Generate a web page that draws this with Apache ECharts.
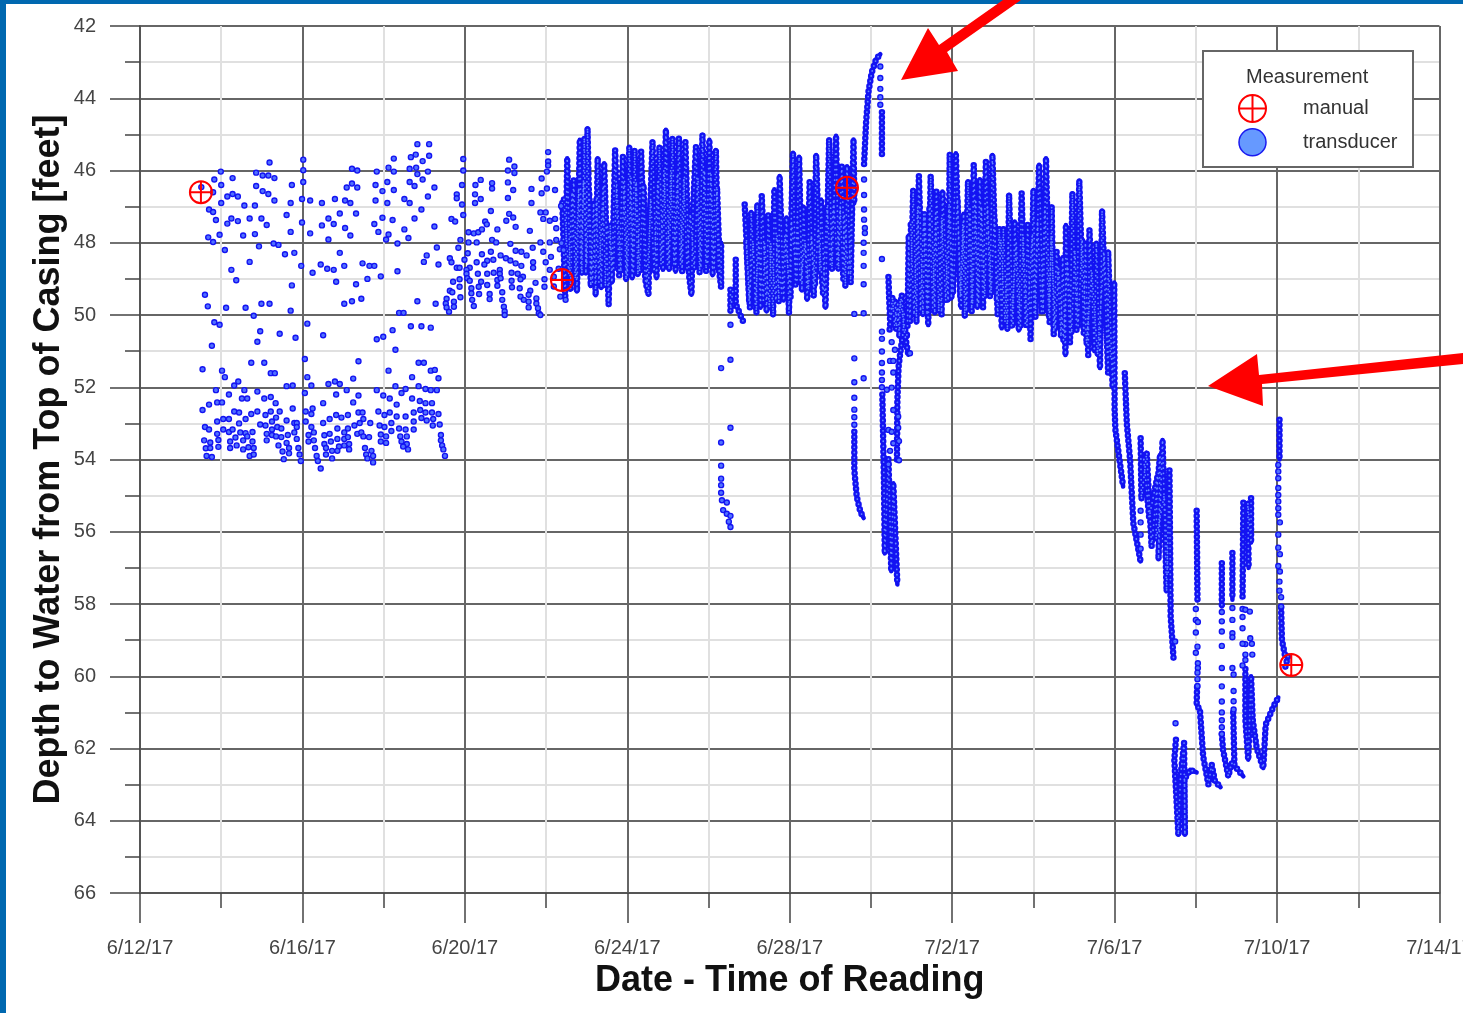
<!DOCTYPE html>
<html>
<head>
<meta charset="utf-8">
<script src="https://cdn.jsdelivr.net/npm/echarts@6/dist/echarts.min.js"></script>
<style>
html,body{margin:0;padding:0;background:#fff;overflow:hidden}
#chart{width:1463px;height:1013px}
</style>
</head>
<body>
<div id="chart"></div>
<script>
// x values are days after 6/12/17, y values are depth to water in feet
const dateLabels = ['6/12/17','6/16/17','6/20/17','6/24/17','6/28/17','7/2/17','7/6/17','7/10/17','7/14/17'];

const manualReadings = [[1.5,46.6],[10.39,49.03],[17.41,46.48],[28.35,59.69]];

const sparseUpper = [[1.51,46.46],[1.99,46.03],[1.83,46.25],[2.0,46.4],[1.8,46.6],[1.7,47.08],[1.8,47.15],[1.87,47.37],[1.68,47.85],[1.8,47.98],[1.96,47.78],[2.0,46.9],[2.15,46.72],[2.28,46.65],[2.41,46.72],[2.28,46.21],[2.57,46.97],[2.83,46.97],[2.15,47.47],[2.25,47.33],[2.41,47.4],[2.7,47.33],[2.99,47.33],[2.54,47.8],[2.83,47.76],[3.12,47.51],[2.93,48.1],[2.09,48.2],[2.7,48.53],[2.25,48.75],[2.37,49.04],[2.86,46.06],[3.02,46.14],[3.16,46.14],[3.31,46.21],[3.19,45.78],[2.86,46.43],[3.02,46.57],[3.16,46.65],[3.31,46.83],[3.74,46.4],[3.71,46.9],[3.61,47.23],[3.71,47.7],[3.29,48.02],[3.41,48.06],[3.57,48.32],[3.8,48.28],[3.74,49.18],[3.97,48.64],[3.99,47.44],[3.99,46.79],[4.02,46.32],[4.02,45.99],[4.02,45.7],[4.19,46.83],[4.19,47.74],[4.48,46.9],[4.48,47.52],[4.64,47.33],[4.77,47.48],[4.64,47.91],[4.8,46.79],[4.92,47.19],[5.05,46.83],[5.18,46.9],[5.09,46.47],[5.22,46.36],[5.35,46.47],[5.22,45.95],[5.35,46.0],[5.32,47.19],[5.05,47.59],[5.18,47.8],[4.92,48.28],[4.45,48.6],[4.25,48.83],[4.61,48.72],[4.77,48.75],[5.03,48.64],[4.83,49.08],[5.32,49.15],[5.48,48.57],[5.65,48.64],[5.77,48.64],[5.6,49.0],[5.93,48.93],[5.77,47.48],[5.87,47.7],[5.97,47.31],[5.8,46.83],[5.8,46.4],[5.83,46.03],[5.97,46.57],[6.09,46.32],[6.09,46.9],[6.12,45.92],[6.25,46.03],[6.25,46.54],[6.25,45.67],[6.22,47.37],[6.12,47.77],[6.06,47.91],[6.34,48.02],[6.34,48.79],[6.51,46.79],[6.64,46.9],[6.51,47.63],[6.61,47.87],[6.76,47.33],[6.93,47.08],[7.25,47.55],[7.31,48.13],[7.06,48.35],[6.99,48.53],[7.35,48.6],[6.64,45.95],[6.64,46.32],[6.76,46.43],[6.8,45.92],[6.83,46.1],[6.96,46.25],[6.67,45.63],[6.79,45.56],[6.96,45.74],[6.83,45.27],[7.12,45.27],[7.12,45.59],[7.09,46.03],[7.25,46.47],[7.09,46.72]];

const sparseMiddle = [[1.6,49.44],[1.67,49.76],[2.12,49.8],[2.6,49.8],[2.99,49.69],[3.19,49.69],[3.71,49.88],[2.8,50.02],[1.83,50.2],[1.96,50.27],[1.77,50.85],[2.96,50.45],[2.89,50.74],[3.44,50.52],[3.83,50.63],[4.12,50.24],[4.51,50.56],[5.03,49.69],[5.22,49.62],[5.45,49.55],[5.83,50.67],[5.99,50.6],[6.22,50.42],[6.29,50.96],[6.38,49.94],[6.49,49.94],[6.67,50.31],[6.93,50.31],[7.16,50.35],[6.83,49.62],[7.28,49.69],[1.54,51.5],[2.02,51.54],[2.09,51.72],[2.74,51.32],[3.06,51.32],[3.22,51.61],[3.32,51.61],[4.06,51.22],[5.38,51.28],[6.12,51.54],[6.86,51.32],[6.99,51.32],[7.16,51.54],[7.26,51.52],[7.35,51.75],[4.12,51.72],[5.25,51.76],[6.7,51.72],[1.87,52.08],[2.32,51.95],[2.42,51.84],[2.57,52.08],[2.19,52.2],[2.51,52.31],[2.64,52.31],[2.89,52.12],[3.06,52.31],[3.22,52.27],[3.34,52.44],[3.61,51.97],[3.76,51.95],[4.06,52.16],[4.22,51.95],[4.64,51.91],[4.8,51.84],[4.92,51.91],[5.09,52.08],[4.83,52.2],[5.38,52.23],[5.25,52.42],[5.83,52.08],[5.99,52.23],[6.15,52.31],[6.29,51.97],[6.44,52.16],[6.54,52.05],[6.7,52.31],[6.86,51.97],[7.03,52.05],[7.16,52.08],[7.31,52.08],[6.89,52.38],[7.03,52.44],[7.19,52.44],[6.32,52.48],[4.51,52.44]];

const sparseLower = [[1.54,52.63],[1.7,52.48],[1.9,52.42],[2.02,52.42],[1.9,52.95],[2.05,52.88],[2.19,52.88],[2.32,52.67],[2.44,52.7],[2.74,52.74],[2.89,52.67],[3.09,52.77],[3.22,52.67],[3.44,52.67],[3.76,52.59],[4.08,52.67],[4.25,52.59],[4.22,52.74],[4.83,52.77],[5.12,52.77],[4.96,52.84],[4.67,52.88],[4.51,52.99],[5.38,52.7],[5.48,52.7],[5.87,52.67],[6.02,52.77],[6.15,52.7],[6.32,52.81],[6.54,52.81],[6.74,52.7],[6.9,52.63],[7.03,52.7],[7.19,52.7],[7.35,52.74],[1.6,53.1],[1.7,53.17],[1.58,53.47],[1.73,53.53],[1.9,53.29],[1.93,53.46],[1.93,53.65],[1.62,53.69],[1.73,53.68],[1.64,53.9],[1.77,53.93],[2.05,53.17],[2.19,53.24],[2.28,53.17],[2.44,53.0],[2.6,52.88],[2.47,53.25],[2.6,53.27],[2.77,53.24],[2.35,53.39],[2.22,53.5],[2.22,53.68],[2.38,53.61],[2.54,53.47],[2.64,53.36],[2.77,53.5],[2.54,53.72],[2.67,53.66],[2.8,53.68],[2.7,53.9],[2.8,53.86],[2.96,53.03],[3.09,53.06],[3.25,52.95],[3.35,52.84],[3.61,52.92],[3.8,52.99],[3.86,52.99],[3.38,53.1],[3.48,53.14],[3.25,53.17],[3.12,53.29],[3.25,53.32],[3.12,53.47],[3.35,53.36],[3.48,53.38],[3.64,53.32],[3.86,53.1],[3.8,53.25],[3.41,53.61],[3.61,53.54],[3.51,53.78],[3.67,53.68],[3.54,53.99],[3.67,53.83],[3.86,53.43],[3.9,53.68],[3.93,53.86],[3.96,54.04],[4.08,52.95],[4.22,53.1],[4.28,53.25],[4.15,53.32],[4.28,53.47],[4.15,53.5],[4.31,53.68],[4.35,53.9],[4.38,54.04],[4.45,54.25],[4.54,53.33],[4.67,53.29],[4.54,53.57],[4.7,53.5],[4.58,53.68],[4.73,53.76],[4.58,53.86],[4.73,53.97],[4.86,53.14],[5.03,53.25],[5.12,53.14],[5.28,53.06],[4.86,53.43],[5.03,53.43],[5.12,53.38],[4.9,53.64],[5.03,53.61],[5.15,53.57],[5.15,53.72],[4.86,53.76],[5.35,53.29],[5.5,52.88],[5.41,52.99],[5.67,52.99],[5.45,53.25],[5.5,53.36],[5.64,53.38],[5.54,53.68],[5.7,53.76],[5.57,53.86],[5.74,53.9],[5.6,53.97],[5.74,54.08],[5.9,53.06],[6.02,53.1],[6.19,52.99],[6.19,53.21],[5.93,53.31],[6.06,53.36],[5.93,53.5],[6.06,53.54],[6.38,53.14],[6.54,53.17],[6.41,53.36],[6.57,53.36],[6.44,53.5],[6.57,53.57],[6.48,53.64],[6.6,53.72],[6.74,52.95],[6.74,53.17],[6.93,52.85],[7.06,52.92],[7.22,52.88],[7.21,53.06],[7.38,53.03],[7.41,53.32],[7.41,53.47],[7.44,53.61],[7.47,53.72],[7.51,53.9]];

const sparseLateJune = [[7.96,45.68],[7.96,46],[7.93,46.4],[7.8,46.66],[7.8,46.77],[7.93,46.94],[7.96,47.23],[7.67,47.34],[7.76,47.41],[8.09,47.71],[8.22,47.74],[8.33,47.71],[8.42,47.63],[8.5,47.41],[8.54,47.49],[8.8,47.63],[8.64,47.12],[8.39,46.26],[8.26,46.4],[8.25,46.66],[8.39,46.79],[8.25,46.9],[8.67,46.35],[8.67,46.5],[9.09,45.7],[9.22,45.89],[9.06,46],[9.22,46.07],[9.06,46.33],[9.19,46.54],[9.06,46.76],[9.09,47.2],[9.19,47.3],[9.02,47.39],[9.25,47.56],[9.6,47.67],[9.64,46.51],[9.64,46.9],[9.89,46.22],[10.02,46.03],[10.05,45.49],[10.05,45.75],[10.05,45.86],[9.89,46.63],[10.02,46.5],[10.22,46.54],[9.86,47.16],[9.99,47.16],[9.93,47.34],[10.09,47.39],[10.22,47.34],[10.25,47.6],[10.37,46.98],[7.89,47.92],[8.09,47.99],[7.84,48.14],[8.29,47.99],[8.67,47.92],[8.77,47.99],[9.12,48.03],[9.67,48.14],[9.86,47.99],[10.09,47.99],[10.25,47.92],[10.38,48.01],[8.07,48.29],[7.99,48.47],[8.42,48.32],[8.64,48.25],[8.88,48.35],[9.01,48.43],[9.12,48.49],[9.25,48.22],[9.39,48.25],[9.52,48.35],[9.68,48.54],[9.68,48.69],[9.93,48.25],[9.99,48.54],[10.12,48.39],[10.34,48.18],[10.43,48.2],[7.63,48.43],[7.67,48.54],[7.8,48.69],[7.87,48.69],[8.12,48.69],[8.29,48.54],[8.55,48.5],[8.7,48.47],[8.48,48.6],[9.25,48.57],[9.39,48.64],[8.04,48.75],[8.04,48.86],[8.06,48.98],[8.32,48.86],[8.55,48.86],[8.71,48.83],[8.86,48.75],[8.86,48.86],[9.15,48.83],[9.3,48.86],[9.43,48.94],[7.71,49.08],[7.87,49.01],[8.12,49.05],[8.4,49.08],[8.8,49.03],[8.88,48.98],[9.15,49.05],[9.37,49.01],[9.74,49.11],[9.96,49.01],[9.96,49.22],[10.09,48.75],[10.19,48.94],[10.31,48.72],[7.63,49.33],[7.87,49.22],[8.16,49.26],[8.34,49.22],[8.55,49.17],[8.8,49.19],[9.16,49.23],[9.35,49.26],[9.61,49.33],[10.19,49.21],[7.55,49.55],[7.69,49.37],[7.89,49.51],[8.16,49.4],[8.35,49.42],[8.61,49.42],[8.92,49.37],[9.37,49.49],[9.57,49.44],[9.76,49.54],[10.35,49.49],[10.48,49.58],[7.53,49.68],[7.73,49.63],[8.18,49.58],[8.61,49.56],[8.92,49.58],[9.45,49.58],[9.57,49.63],[9.76,49.68],[7.55,49.79],[7.73,49.77],[8.22,49.75],[8.96,49.77],[9.57,49.79],[9.8,49.81],[7.61,49.91],[8.98,49.9],[9.82,49.95],[8.98,50],[9.86,50]];

const dropStrands = [[14.31,51.47],[14.54,51.24],[14.54,50.27],[14.54,53.12],[14.31,53.53],[14.31,54.17],[14.31,54.53],[14.31,54.71],[14.31,54.92],[14.33,55.13],[14.36,55.4],[14.45,55.19],[14.45,55.5],[14.54,55.56],[14.5,55.72],[14.54,55.87],
[17.83,46.25],[17.83,46.68],[17.83,47.08],[17.83,47.36],[17.85,47.59],[17.85,47.73],[17.82,48.0],[17.82,48.28],[17.82,48.64],[17.82,49.15],[17.82,49.95],[17.82,51.75],[17.59,49.97],[17.59,51.2],[17.59,51.86],[17.59,52.29],[17.59,52.62],[17.59,52.83],[17.59,53.04],
[18.23,43.12],[18.23,43.44],[18.23,43.74],[18.23,43.97],[18.23,44.18],[18.27,48.45],[18.27,50.46],[18.27,50.66],[18.27,51.01],[18.27,51.33],[18.27,51.59],[18.27,51.8],[18.27,52.0],
[18.51,50.75],[18.59,50.96],[18.47,51.27],[18.55,51.27],[18.55,51.59],[18.51,52.01],[18.39,52.07],[18.55,52.63],[18.67,52.81],[18.67,53.12],[18.43,53.18],[18.51,53.23],[18.55,53.55],[18.69,53.49],[18.47,53.76],[18.43,54.13],[18.69,54.02],[18.96,51.06],
[24.64,55.42],[24.64,55.74],[24.64,56.08],[24.64,56.47],[25.49,59.04],[25.5,61.3],
[26.0,58.14],[26.0,58.44],[26.05,58.5],[26.0,58.79],[26.04,59.18],[26.0,59.35],[26.05,59.64],[26.05,59.77],[26.04,59.9],[26.04,60.08],[26.04,60.27],
[26.64,58.22],[26.64,58.48],[26.64,58.76],[26.64,59.16],[26.64,59.77],[26.64,60.28],[26.64,60.7],[26.64,61.0],[26.64,61.22],[26.64,61.41],[26.64,61.6],
[26.9,58.11],[26.9,58.44],[26.9,58.81],[26.9,58.92],[26.9,59.77],[26.93,59.95],[26.93,60.41],[26.93,60.69],[26.93,60.92],
[27.15,58.14],[27.15,58.36],[27.15,58.67],[27.22,58.16],[27.22,59.11],[27.33,58.21],[27.34,58.95],[27.15,59.1],[27.38,59.1],[27.22,59.4],[27.39,59.4],[27.15,59.7],[27.22,59.55],
[28.03,54.15],[28.03,54.33],[28.03,54.52],[28.03,54.79],[28.03,54.98],[28.03,55.16],[28.03,55.35],[28.03,55.53],[28.07,55.74],[28.03,56.08],[28.03,56.44],[28.07,56.62],[28.03,56.95],[28.07,57.1],[28.06,57.38],[28.06,57.63],[28.1,57.81],[28.1,58.07]];

// traced swings of the water level through the densely sampled stretches
const swingsJune = [[10.40,46.9],[10.47,49.55],[10.52,45.66],[10.60,49.3],[10.68,46.26],[10.76,49.35],[10.83,45.15],[10.88,48.85],[10.94,45.1],[10.98,48.85],[11.02,44.83],[11.10,49.2],[11.17,46.9],[11.22,49.45],[11.27,45.66],[11.36,49.25],[11.43,45.8],[11.54,49.72],[11.58,47.5],[11.62,49.1],[11.70,45.43],[11.80,48.9],[11.89,45.61],[11.97,49.03],[12.05,45.34],[12.12,48.98],[12.18,45.43],[12.26,48.89],[12.34,45.47],[12.44,49.0],[12.52,49.44],[12.56,47.2],[12.62,45.2],[12.72,48.98],[12.79,45.34],[12.88,48.75],[12.95,44.87],[13.03,48.75],[13.11,45.1],[13.19,48.8],[13.27,45.1],[13.35,48.8],[13.43,45.2],[13.52,48.9],[13.58,49.44],[13.62,47.0],[13.69,45.34],[13.78,48.84],[13.85,45.01],[13.94,48.8],[14.02,45.15],[14.10,48.9],[14.18,45.43],[14.24,48.6],[14.31,49.23],[14.31,48.0]];
const innerJune = [[10.44,46.8],[10.56,48.9],[10.64,46.6],[10.72,49],[10.8,46.5],[10.86,48.7],[10.92,46.3],[11.0,48.6],[11.06,46.6],[11.14,49.1],[11.24,46.8],[11.3,49.1],[11.4,46.5],[11.46,49.2],[11.5,47.5],[11.66,48.7],[11.74,46.4],[11.84,48.8],[11.93,46.3],[12.0,48.9],[12.09,46.2],[12.15,48.8],[12.22,46.3],[12.3,48.8],[12.4,46.4],[12.48,49.2],[12.58,46.8],[12.66,48.8],[12.75,46.3],[12.83,48.6],[12.9,46],[12.99,48.6],[13.07,46],[13.15,48.6],[13.23,46.1],[13.31,48.6],[13.39,46.2],[13.47,48.7],[13.55,47.2],[13.65,48.7],[13.74,46.2],[13.81,48.7],[13.9,46],[13.98,48.6],[14.06,46.1],[14.14,48.7],[14.21,46.5],[14.28,48.8]];
const swingsLateJune = [[14.89,46.94],[15.02,49.8],[15.05,47.15],[15.18,49.95],[15.2,46.94],[15.28,49.8],[15.31,46.7],[15.43,49.9],[15.47,47.23],[15.59,50.01],[15.62,46.52],[15.73,49.64],[15.75,46.15],[15.85,49.6],[15.92,47.3],[15.98,49.95],[16.08,45.51],[16.14,49.16],[16.23,45.62],[16.3,49.32],[16.34,47.0],[16.43,49.58],[16.49,46.31],[16.59,49.48],[16.65,45.57],[16.74,48.79],[16.77,46.8],[16.88,49.8],[16.97,45.14],[17.04,48.74],[17.14,45.04],[17.2,48.74],[17.28,45.88],[17.37,49.21],[17.41,45.88],[17.5,49.11],[17.57,45.14],[17.59,46.9]];
const innerLateJune = [[14.93,48],[15.0,49.6],[15.1,48],[15.15,49.7],[15.24,48],[15.35,49.6],[15.38,48],[15.5,49.8],[15.53,48],[15.66,49.6],[15.69,47.8],[15.8,49.4],[15.88,47.8],[16.02,49.5],[16.04,47.4],[16.18,49.1],[16.19,47.3],[16.26,49.1],[16.38,48],[16.46,49.3],[16.53,47.8],[16.62,49.2],[16.7,47.6],[16.82,49.4],[16.92,47],[17.0,48.6],[17.08,46.8],[17.17,48.6],[17.24,47],[17.32,49],[17.34,47.2],[17.45,48.9],[17.53,47]];
const swingsJuly = [[18.9,50.3],[18.93,47.8],[18.96,50.18],[19.04,46.54],[19.12,50.21],[19.18,46.15],[19.28,50.0],[19.33,47.2],[19.41,50.28],[19.47,46.15],[19.57,49.95],[19.61,46.58],[19.74,50.0],[19.76,46.58],[19.9,49.6],[19.94,45.54],[19.98,49.54],[20.09,45.52],[20.2,49.5],[20.26,47.5],[20.31,50.04],[20.39,46.3],[20.48,49.91],[20.53,45.84],[20.62,49.8],[20.68,46.24],[20.76,49.79],[20.83,45.75],[20.93,49.49],[20.99,45.57],[21.1,49.6],[21.16,47.6],[21.22,50.37],[21.26,47.6],[21.36,50.41],[21.4,46.67],[21.5,50.3],[21.54,47.41],[21.64,50.43],[21.71,46.63],[21.8,50.3],[21.86,47.5],[21.93,50.67],[22.0,46.54],[22.05,50.07],[22.14,45.84],[22.24,49.91],[22.31,45.66],[22.4,50.2],[22.45,47.0],[22.5,50.55],[22.57,48.24],[22.68,50.6],[22.72,48.4],[22.79,51.11],[22.8,47.51],[22.9,50.76],[22.96,46.63],[23.06,50.41],[23.13,46.28],[23.24,50.5],[23.28,48.0],[23.35,51.11],[23.38,47.64],[23.5,51.0],[23.55,48.0],[23.64,51.47],[23.69,47.11],[23.84,51.6],[23.84,48.24],[23.95,52.0],[23.99,49.1],[24.0,52.63],[24.02,53.18],[24.21,54.75]];
const innerJuly = [[18.98,47.5],[19.06,50.0],[19.15,47],[19.22,49.9],[19.3,47.2],[19.38,50.0],[19.44,47],[19.52,49.8],[19.59,47.2],[19.67,49.9],[19.74,47.3],[19.84,49.6],[19.92,47],[20.02,49.4],[20.13,46.8],[20.22,49.8],[20.28,47.2],[20.35,49.9],[20.44,47],[20.5,49.7],[20.58,46.8],[20.65,49.7],[20.72,47],[20.8,49.5],[20.87,47],[20.96,49.4],[21.04,47.3],[21.12,50],[21.2,47.9],[21.3,50.2],[21.38,48],[21.46,50.3],[21.58,48],[21.68,50.3],[21.75,47.8],[21.84,50.3],[21.97,47.8],[22.02,50],[22.1,47.4],[22.2,49.9],[22.28,47],[22.38,50],[22.44,47.8],[22.54,50.4],[22.62,48.7],[22.74,50.7],[22.84,48.5],[22.94,50.5],[23.02,48.2],[23.1,50.3],[23.2,47.9],[23.31,50.8],[23.44,48.8],[23.58,51.1],[23.74,48.3],[23.9,51.2]];
const swingsDecline = [[24.25,51.61],[24.3,53.0],[24.38,54.0],[24.46,55.76],[24.64,56.82]];
const swingsDeclineNext = [[24.64,53.41],[24.66,55.1],[24.79,53.81],[24.91,56.41],[25.12,53.87],[25.08,56.76],[25.18,53.46],[25.28,57.65],[25.35,54.3],[25.38,58.34],[25.45,59.5]];
const innerDecline = [[24.72,54.0],[24.85,55.6],[25.05,54.5],[25.02,56.2],[25.22,55.0],[25.32,57.2]];
const riseToPeak = [[17.83,45.82],[17.88,44.66],[17.94,43.81],[18.02,43.28],[18.13,42.91],[18.23,42.78]];
const fallFromPeak = [[18.27,44.39],[18.27,45.55]];
const recessionA = [[17.59,53.23],[17.59,54.29],[17.65,55.03],[17.74,55.45],[17.82,55.62]];
const recessionB = [[18.28,52.2],[18.32,54.6],[18.34,56.6],[18.43,53.97],[18.5,57.09],[18.55,54.66],[18.65,57.46]];
const recoveryB = [[18.64,54.0],[18.65,52.38],[18.68,51.43],[18.72,51.06],[18.78,50.59],[18.82,49.9]];
const recoveryTop = [[18.43,48.95],[18.45,49.6],[18.47,50.1],[18.6,49.6],[18.62,50.4],[18.76,49.45],[18.8,50.3],[18.92,51.1]];
const recoveryInner = [[18.46,50.4],[18.53,49.5],[18.58,50.3],[18.66,49.7],[18.7,50.6],[18.72,49.6],[18.84,50.4],[18.9,50.6]];
const smallCluster = [[14.67,48.47],[14.67,49.7],[14.85,50.17]];
const smallClusterB = [[14.54,49.3],[14.54,49.9],[14.6,49.3]];
const lowSpike = [[25.51,61.76],[25.47,62.3],[25.57,64.39],[25.62,62.8],[25.71,61.85],[25.73,64.39],[25.72,62.8],[25.77,62.77],[25.86,62.59],[26.02,62.66]];
const columnF = [[26.02,55.42],[26.04,57.9]];
const columnFLow = [[26.03,60.3],[26.02,60.79],[26.1,60.93],[26.18,62.22],[26.31,63.0],[26.39,62.45],[26.47,62.9],[26.61,63.07]];
const columnG = [[26.64,56.87],[26.64,58.07]];
const columnGLow = [[26.64,61.6],[26.67,62.04],[26.8,62.77],[26.88,62.4],[26.95,62.5]];
const columnH = [[26.9,56.59],[26.9,57.88]];
const columnHLow = [[26.92,61.0],[26.95,62.47],[27.17,62.77]];
const columnI = [[27.17,55.2],[27.15,57.8]];
const columnIRight = [[27.36,55.07],[27.36,56.3],[27.28,55.2],[27.3,57.0]];
const columnILow = [[27.22,59.8],[27.22,61.2],[27.29,62.31],[27.36,60.0],[27.4,61.2],[27.5,62.0],[27.66,62.54],[27.72,61.34],[27.91,60.84],[28.03,60.59]];
const finalRise = [[28.06,52.9],[28.06,54.0]];
const finalFall = [[28.1,58.1],[28.12,59.0],[28.2,59.45],[28.27,59.45],[28.2,59.75]];

const tracedPaths = [swingsJune,innerJune,swingsLateJune,innerLateJune,swingsJuly,innerJuly,swingsDecline,swingsDeclineNext,innerDecline,riseToPeak,fallFromPeak,recessionA,recessionB,recoveryB,recoveryTop,recoveryInner,smallCluster,smallClusterB,lowSpike,columnF,columnFLow,columnG,columnGLow,columnH,columnHLow,columnI,columnIRight,columnILow,finalRise,finalFall];
const sparseReadings = [].concat(sparseUpper,sparseMiddle,sparseLower,sparseLateJune,dropStrands);

const FONT = '"Liberation Sans", Arial, sans-serif';
const chart = echarts.init(document.getElementById('chart'), null, {renderer:'canvas'});

function traced(data, width, color, z, dash){
  return {type:'line', data, showSymbol:false, symbol:'none', silent:true, z, animation:false,
    lineStyle:{width, color, type:dash, cap:'round', join:'round'}};
}
const DOTS = [0,5.2];
const pathSeries = [];
tracedPaths.forEach(p => pathSeries.push(traced(p, 4.5, '#1010ee', 3, 'solid')));
tracedPaths.forEach(p => pathSeries.push(traced(p, 6.5, '#1313f2', 3, DOTS)));
tracedPaths.forEach(p => pathSeries.push(traced(p, 1.8, '#6688ff', 4, DOTS)));

chart.setOption({
  animation:false,
  backgroundColor:'#fff',
  title:{text:'Measurement', left:1241, top:62, z:30,
    textStyle:{fontFamily:FONT, fontSize:20, fontWeight:'normal', color:'#333'}},
  legend:{orient:'vertical', left:1233, top:89, z:30, itemWidth:27, itemHeight:27, itemGap:5,
    data:[
      {name:'manual', itemStyle:{color:'rgba(0,0,0,0)', borderColor:'#f00', borderWidth:2}},
      {name:'transducer', icon:'circle', itemStyle:{color:'#6699ff', borderColor:'#1a1af0', borderWidth:1.5}}
    ],
    selectedMode:false,
    textStyle:{fontFamily:FONT, fontSize:20, color:'#333', padding:[0,0,0,32]}},
  grid:{left:140, top:26, width:1299.5, height:867, containLabel:false, outerBoundsMode:'none'},
  xAxis:{type:'value', min:0, max:32, interval:4, position:'bottom',
    name:'Date - Time of Reading', nameLocation:'middle', nameGap:70,
    nameTextStyle:{fontFamily:FONT, fontSize:36, fontWeight:'bold', color:'#111'},
    axisLine:{onZero:false, lineStyle:{color:'#555', width:2}},
    axisTick:{length:30, lineStyle:{color:'#444', width:1.5}},
    minorTick:{show:true, splitNumber:2, length:15, lineStyle:{color:'#444', width:1.5}},
    splitLine:{show:true, lineStyle:{color:'#666', width:2}},
    minorSplitLine:{show:true, lineStyle:{color:'#e0e0e0', width:2}},
    axisLabel:{margin:45, fontFamily:FONT, fontSize:20, color:'#444', formatter:v => dateLabels[v/4], showMinLabel:true, showMaxLabel:true, hideOverlap:false}},
  yAxis:{type:'value', min:42, max:66, interval:2, inverse:true,
    name:'Depth to Water from Top of Casing [feet]', nameLocation:'middle', nameGap:73, nameMoveOverlap:false,
    nameTextStyle:{fontFamily:FONT, fontSize:36, fontWeight:'bold', color:'#111'},
    axisLine:{onZero:false, lineStyle:{color:'#555', width:2}},
    axisTick:{length:30, lineStyle:{color:'#444', width:1.5}},
    minorTick:{show:true, splitNumber:2, length:15, lineStyle:{color:'#444', width:1.5}},
    splitLine:{show:true, lineStyle:{color:'#666', width:2}},
    minorSplitLine:{show:true, lineStyle:{color:'#e0e0e0', width:2}},
    axisLabel:{margin:44, fontFamily:FONT, fontSize:20, color:'#444'}},
  series:[
    {name:'transducer', type:'scatter', data:sparseReadings, symbol:'circle', symbolSize:5, z:5, silent:true,
      itemStyle:{color:'#5070ff', borderColor:'#1313f2', borderWidth:1.4, opacity:1}},
    ...pathSeries,
    {name:'manual', type:'scatter', data:manualReadings, z:8, silent:true, symbolSize:22,
      symbol:'path://M12 1A11 11 0 1 1 11.99 1ZM12 1V23M1 12H23',
      itemStyle:{color:'rgba(0,0,0,0)', borderColor:'#f00', borderWidth:2, opacity:1}}
  ],
  graphic:[
    {type:'rect', z:20, shape:{x:1203,y:51,width:210,height:116}, style:{fill:'#fff', stroke:'#666', lineWidth:2}},
    {type:'polygon', z:40, shape:{points:[[901,80],[928,28],[939,45],[1003,0],[1021,0],[947,52],[958,71]]}, style:{fill:'#f00'}},
    {type:'polygon', z:40, shape:{points:[[1208,386],[1257,354],[1259,375],[1463,353],[1463,364],[1262,384],[1263,406]]}, style:{fill:'#f00'}},
    {type:'rect', z:35, shape:{x:0,y:0,width:1463,height:4}, style:{fill:'#0068b0'}},
    {type:'rect', z:35, shape:{x:0,y:0,width:6,height:1013}, style:{fill:'#0068b0'}}
  ]
});
</script>
</body>
</html>
